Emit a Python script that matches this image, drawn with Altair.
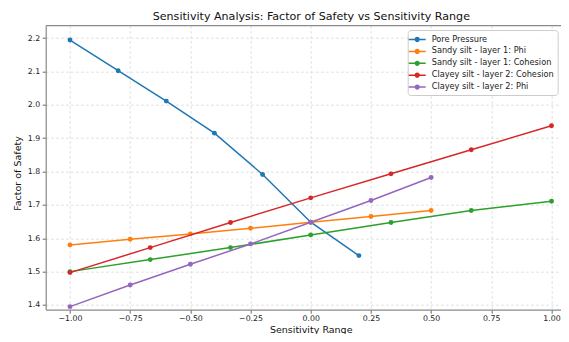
import altair as alt
import pandas as pd

series_names = [
    "Pore Pressure",
    "Sandy silt - layer 1: Phi",
    "Sandy silt - layer 1: Cohesion",
    "Clayey silt - layer 2: Cohesion",
    "Clayey silt - layer 2: Phi",
]
colors = ["#1f77b4", "#ff7f0e", "#2ca02c", "#d62728", "#9467bd"]

pore_x = [-1.0, -0.8, -0.6, -0.4, -0.2, 0.0, 0.2]
pore_y = [2.194, 2.102, 2.011, 1.915, 1.791, 1.648, 1.548]

sand_phi_x = [-1.0, -0.75, -0.5, -0.25, 0.0, 0.25, 0.5]
sand_phi_y = [1.580, 1.597, 1.613, 1.630, 1.648, 1.665, 1.683]

sand_coh_x = [-1.0, -0.6667, -0.3333, 0.0, 0.3333, 0.6667, 1.0]
sand_coh_y = [1.500, 1.536, 1.572, 1.610, 1.647, 1.683, 1.711]

clay_coh_x = [-1.0, -0.6667, -0.3333, 0.0, 0.3333, 0.6667, 1.0]
clay_coh_y = [1.497, 1.572, 1.647, 1.721, 1.793, 1.865, 1.937]

clay_phi_x = [-1.0, -0.75, -0.5, -0.25, 0.0, 0.25, 0.5]
clay_phi_y = [1.395, 1.460, 1.522, 1.583, 1.648, 1.713, 1.782]

x_ticks = [-1.0, -0.75, -0.5, -0.25, 0.0, 0.25, 0.5, 0.75, 1.0]
y_ticks = [1.4, 1.5, 1.6, 1.7, 1.8, 1.9, 2.0, 2.1, 2.2]

all_x = [pore_x, sand_phi_x, sand_coh_x, clay_coh_x, clay_phi_x]
all_y = [pore_y, sand_phi_y, sand_coh_y, clay_coh_y, clay_phi_y]

FONT = "DejaVu Sans"
GRID = "#d0d0d0"
SPINE = "#8a8a8a"

PLOT_W = 515.3
PLOT_H = 284.0

xs = alt.Scale(domain=[-1.1009, 1.0395], nice=False, zero=False)
ys = alt.Scale(domain=[1.3859, 2.2369], nice=False, zero=False)
cs = alt.Scale(domain=series_names, range=colors)

sym = ("M-1.545,-0.136L-0.45,-0.136L-0.45,0.136L-1.545,0.136Z"
       "M0.45,-0.136L1.545,-0.136L1.545,0.136L0.45,0.136Z"
       "M-0.48,0A0.48,0.48,0,1,1,0.48,0A0.48,0.48,0,1,1,-0.48,0Z")

legend = alt.Legend(
    title=None, orient="none", legendX=362, legendY=4.3,
    symbolType=sym, symbolSize=121, symbolStrokeWidth=0,
    labelFont=FONT, labelFontSize=8.2, labelColor="#222",
    fillColor="rgba(255,255,255,0.85)", strokeColor="#cccccc",
    cornerRadius=3, padding=4, rowPadding=2.9, labelOffset=9,
)

x_axis = alt.Axis(
    title="Sensitivity Range", values=x_ticks, titleX=265, titlePadding=2,
    labelPadding=1.5,
    labelExpr="replace(format(datum.value, '.2f'), '-', '\u2212')")
y_axis = alt.Axis(
    title="Factor of Safety", values=y_ticks, format=".1f",
    titleY=147.3, titlePadding=5, labelPadding=2.5)

layers = []
for i, name in enumerate(series_names):
    df = pd.DataFrame({"x": all_x[i], "y": all_y[i], "series": name})
    base = alt.Chart(df).encode(
        x=alt.X("x:Q", scale=xs, axis=x_axis),
        y=alt.Y("y:Q", scale=ys, axis=y_axis),
        color=alt.Color("series:N", scale=cs, legend=legend),
    )
    layers.append(base.mark_line(strokeWidth=1.5))
    layers.append(base.mark_point(filled=True, size=24, opacity=1))

top_spine = alt.Chart(pd.DataFrame({"k": [0]})).mark_rule(
    color=SPINE, strokeWidth=1.2
).encode(x=alt.value(0), x2=alt.value("width"), y=alt.value(0))

chart = alt.layer(top_spine, *layers).properties(
    width=PLOT_W, height=PLOT_H,
    autosize=alt.AutoSizeParams(type="none"),
    padding={"left": 37.7, "top": 17.7, "right": 0, "bottom": 24.3},
    title=alt.TitleParams(
        "Sensitivity Analysis: Factor of Safety vs Sensitivity Range",
        font=FONT, fontSize=11.1, fontWeight="normal", color="#111",
        offset=3, dx=8),
).configure_view(
    stroke=None
).configure_axis(
    labelFont=FONT, labelFontSize=7.8, labelColor="#222",
    titleFont=FONT, titleFontSize=9.5, titleFontWeight="normal", titleColor="#111",
    grid=True, gridColor=GRID, gridDash=[2.5, 2.5], gridWidth=0.7,
    domainColor=SPINE, domainWidth=1.2,
    tickColor="#444", tickSize=3.5, tickWidth=0.8,
)

chart.save("out.html", embed_options={"renderer": "svg", "actions": False})
